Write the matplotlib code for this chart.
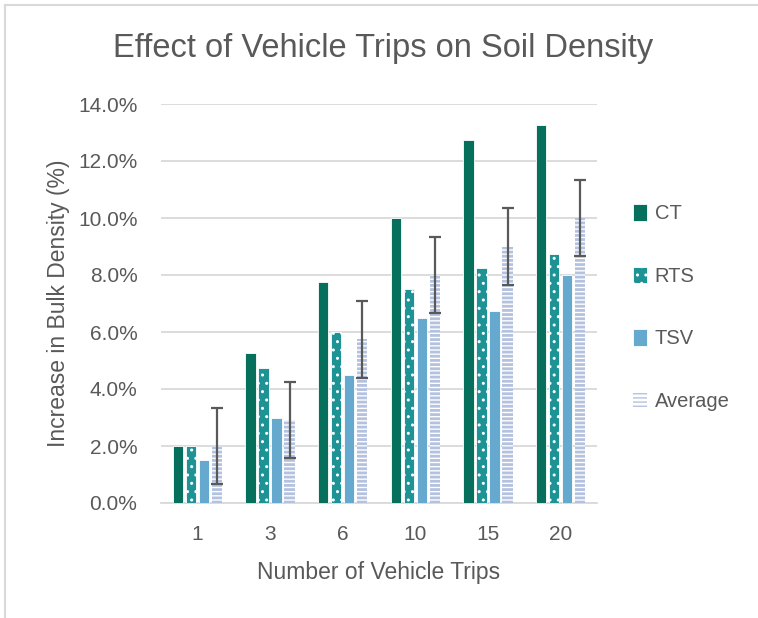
import numpy as np
import matplotlib.pyplot as plt
from matplotlib.lines import Line2D
from matplotlib.ticker import PercentFormatter

trips = ['1', '3', '6', '10', '15', '20']
ct = [2.0, 5.25, 7.75, 10.0, 12.75, 13.25]
rts = [2.0, 4.75, 6.0, 7.5, 8.25, 8.75]
tsv = [1.5, 3.0, 4.5, 6.5, 6.75, 8.0]
avg = [2.0, 2.9, 5.75, 8.0, 9.0, 10.0]
avg_err = [1.34, 1.33, 1.35, 1.34, 1.35, 1.35]

grey = '#595959'
plt.rcParams['font.family'] = ['Liberation Sans', 'DejaVu Sans']

fig = plt.figure(figsize=(7.58, 6.18), dpi=100)
ax = fig.add_axes([161 / 758, 1 - 503 / 618, 436 / 758, 399 / 618])

x = np.arange(len(trips))
pitch = 0.179
w = 0.145
ax.bar(x - 1.5 * pitch, ct, w, color='#07705C', edgecolor='white', linewidth=0.6, label='CT', zorder=3)
with plt.rc_context({'hatch.linewidth': 1.0}):
    ax.bar(x - 0.5 * pitch, rts, w, color='#1E9396', edgecolor='white', linewidth=0.6,
           hatch='..', label='RTS', zorder=3)
ax.bar(x + 0.5 * pitch, tsv, w, color='#66A9CF', edgecolor='white', linewidth=0.6, label='TSV', zorder=3)
with plt.rc_context({'hatch.linewidth': 2.0}):
    ax.bar(x + 1.5 * pitch, avg, w, color='white', edgecolor='#B4C2DF', linewidth=0,
           hatch='----', label='Average', zorder=3)
ax.errorbar(x + 1.5 * pitch, avg, yerr=avg_err, fmt='none', ecolor=grey, elinewidth=1.6,
            capsize=4.3, capthick=1.6, zorder=4)

ax.set_xlim(-0.5, len(trips) - 0.5)
ax.set_ylim(0, 14)
ax.set_yticks(np.arange(0, 14.1, 2))
ax.yaxis.set_major_formatter(PercentFormatter(decimals=1))
ax.set_xticks(x)
ax.set_xticklabels(trips)
ax.grid(axis='y', color='#D9D9D9', linewidth=1.3, zorder=0)
ax.set_axisbelow(True)
for s in ['left', 'right', 'top']:
    ax.spines[s].set_visible(False)
ax.spines['bottom'].set_color('#D9D9D9')
ax.spines['bottom'].set_linewidth(1.3)
ax.tick_params(length=0, colors=grey, labelsize=15)
ax.tick_params(axis='x', pad=16)
ax.tick_params(axis='y', pad=17)

ax.set_xlabel('Number of Vehicle Trips', color=grey, fontsize=16.5, labelpad=12)
ax.set_ylabel('Increase in Bulk Density (%)', color=grey, fontsize=16.5, labelpad=6)
fig.text(383 / 758, 1 - 48 / 618, 'Effect of Vehicle Trips on Soil Density', ha='center', va='center',
         color=grey, fontsize=23.5)

leg = ax.legend(loc='center left', bbox_to_anchor=(1.04, 0.49), frameon=False, fontsize=14.5,
                labelcolor=grey, handlelength=0.7, handleheight=0.9, handletextpad=0.4,
                labelspacing=2.15)

# chart border (partly cropped)
fig.add_artist(Line2D([5 / 758, 5 / 758], [0, 1 - 5 / 618], color='#D9D9D9', lw=1.5))
fig.add_artist(Line2D([5 / 758, 1], [1 - 5 / 618, 1 - 5 / 618], color='#D9D9D9', lw=1.5))

fig.savefig('out.png', dpi=100)
